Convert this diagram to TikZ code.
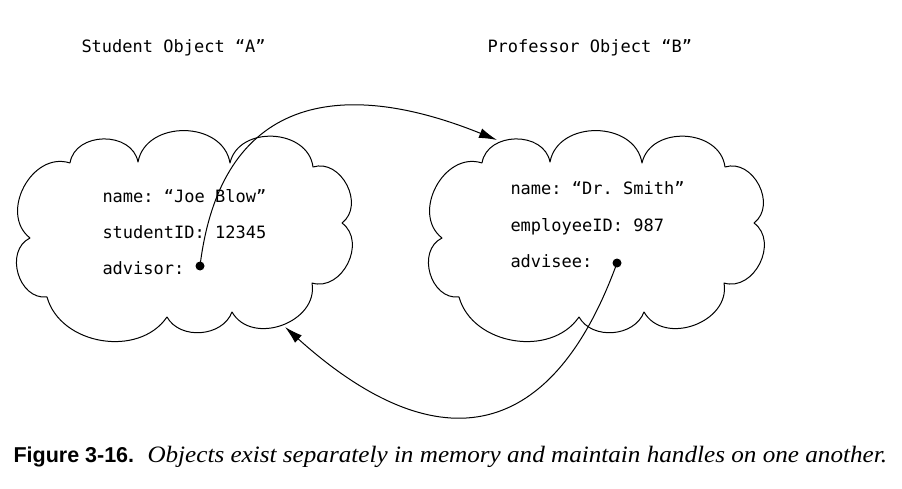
\documentclass[tikz,border=0pt]{standalone}
\usepackage{fontspec}
\setmonofont{DejaVu Sans Mono}
\newfontfamily\capsans{Liberation Sans}
\newfontfamily\capserif[FakeStretch=1.07]{Liberation Serif}
\usetikzlibrary{arrows.meta}

\tikzset{
  field/.style={anchor=base west,inner sep=0pt,font=\ttfamily\fontsize{17}{20}\selectfont},
  handle/.style={circle,fill,inner sep=0pt,minimum size=9pt},
  ref/.style={-{Latex[length=18pt,width=10pt]},line width=1pt},
  puff/.style={bend left=80,looseness=1.2},
  flatpuff/.style={bend left=65,looseness=1.05},
}

% outline of one object
\newcommand{\objcloud}{(70,325) to[puff] (138,326) to[puff] (230,325) to[puff] (313,321)
  to[puff] (342,265) to[puff] (312,205) to[puff] (232,176)
  to[flatpuff] (167,171) to[flatpuff] (47,191) to[puff] (30,250) to[puff] (70,325)}

\begin{document}
\begin{tikzpicture}[x=1pt,y=1pt,line width=1pt,line join=round]
        \useasboundingbox (0,0) rectangle (902,488);
        \node[field] (titleA) at (81,435) {Student Object “A”};
        \node[field] (titleB) at (487,435) {Professor Object “B”};
        \draw \objcloud;
        \draw[shift={(412,0)}] \objcloud;
        \node[field] (nameA) at (102,285) {name: “Joe Blow”};
        \node[field] (idA) at (102,249) {studentID: 12345};
        \node[field] (advisor) at (102,214) {advisor:};
        \node[field] (nameB) at (510,293) {name: “Dr. Smith”};
        \node[field] (idB) at (510,257) {employeeID: 987};
        \node[field] (advisee) at (510,221) {advisee:};
        \node[handle] (dotA) at (200,222) {};
        \node[handle] (dotB) at (617,225) {};
        \coordinate (tipB) at (497,348);
        \coordinate (tipA) at (285,161);
        \draw[ref] (dotA.center) to[out=83,in=158,looseness=1.35] (tipB);
        \draw[ref] (dotB.center) to[out=-110,in=-42,looseness=1.5] (tipA);
        \node[anchor=base west,inner sep=0pt,font=\capsans\bfseries\fontsize{21.5}{24}\selectfont] (fig) at (13,26) {Figure 3-16.};
        \node[anchor=base west,inner sep=0pt,font=\capserif\itshape\fontsize{23.5}{26}\selectfont] (caption) at (147,26) {Objects exist separately in memory and maintain handles on one another.};
    \end{tikzpicture}
\end{document}
